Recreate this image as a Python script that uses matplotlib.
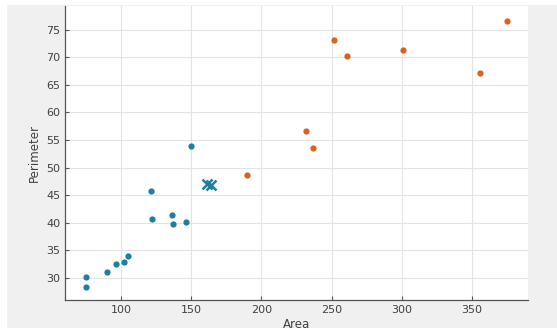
import numpy as np
import matplotlib
matplotlib.use("Agg")
import matplotlib.pyplot as plt
from matplotlib.patches import Rectangle

# group 1 (blue) and group 2 (orange), plus two cross markers
area_1 = [75, 75, 90, 96, 102, 105, 121, 122, 136, 137, 146, 150]
perim_1 = [28.3, 30.2, 31.1, 32.5, 32.9, 33.9, 45.8, 40.6, 41.4, 39.8, 40.1, 54.0]

area_2 = [190, 231.5, 237, 252, 261, 301, 356, 375]
perim_2 = [48.6, 56.6, 53.6, 73.2, 70.2, 71.3, 67.2, 76.6]

area_x = [161.5, 164]
perim_x = [47.1, 46.8]

xticks = [100, 150, 200, 250, 300, 350]
yticks = [30, 35, 40, 45, 50, 55, 60, 65, 70, 75]

blue = "#1f7fa0"
orange = "#d9621f"
txt = "#404040"

fig = plt.figure(figsize=(5.57, 3.34), dpi=100, facecolor="white")
# grey figure panel, with a thin white margin around it like the screenshot
fig.patches.append(Rectangle((7 / 557, 6 / 334), 550 / 557, 323 / 334,
                             transform=fig.transFigure, facecolor="#f0f0f0",
                             edgecolor="none", zorder=-1))

ax = fig.add_axes([0.1167, 0.1018, 0.8313, 0.8802])
ax.set_zorder(1)
ax.set_facecolor("white")

ax.plot(area_1, perim_1, "o", color=blue, markersize=4.5, markeredgewidth=0)
ax.plot(area_2, perim_2, "o", color=orange, markersize=4.5, markeredgewidth=0)
ax.plot(area_x, perim_x, "x", color=blue, markersize=7, markeredgewidth=1.8)

ax.set_xlim(60, 390)
ax.set_ylim(26, 79.3)
ax.set_xticks(xticks)
ax.set_yticks(yticks)
ax.grid(True, color="#e3e3e3", linewidth=0.8)
ax.set_axisbelow(True)

for s in ["top", "right"]:
    ax.spines[s].set_visible(False)
for s in ["left", "bottom"]:
    ax.spines[s].set_color("#555555")
    ax.spines[s].set_linewidth(0.9)

ax.tick_params(direction="in", length=3, colors="#555555", labelcolor=txt, labelsize=8)
ax.set_xlabel("Area", fontsize=8.5, color=txt, labelpad=2)
ax.set_ylabel("Perimeter", fontsize=8.5, color=txt, labelpad=4)

fig.savefig("out.png", dpi=100, facecolor=fig.get_facecolor())
